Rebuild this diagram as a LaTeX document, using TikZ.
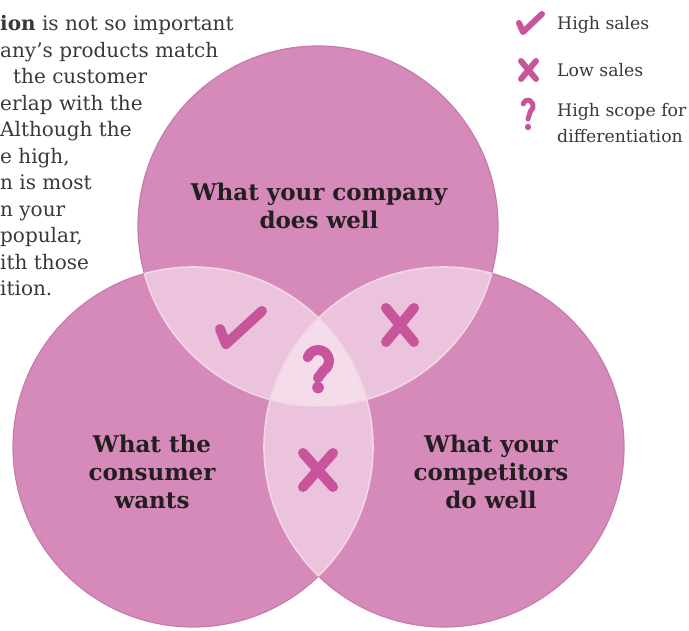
\documentclass[tikz,border=0pt]{standalone}
\usepackage{fontspec}
\setmainfont{DejaVu Serif}
\definecolor{circ}{HTML}{D68ABA}
\definecolor{circrim}{HTML}{C67CAB}
\definecolor{pair}{HTML}{ECC3DD}
\definecolor{pairedge}{HTML}{F4D6E8}
\definecolor{triple}{HTML}{F5DCEB}
\definecolor{symc}{HTML}{C8559C}
\definecolor{txt}{HTML}{3A3838}
\definecolor{lbl}{HTML}{231F20}
\begin{document}
\begin{tikzpicture}[x=1pt,y=1pt,
  bodytext/.style={font=\fontsize{20}{26.5}\selectfont, text=txt, inner sep=0pt, anchor=base west},
  legtext/.style={font=\fontsize{17.3}{26}\selectfont, text=txt, inner sep=0pt, anchor=base west},
  labeltext/.style={font=\fontsize{23}{28}\selectfont\bfseries, text=lbl, align=center, inner sep=0pt},
  sym/.style={draw=symc, line width=10, line cap=round, line join=round},
  smallsym/.style={draw=symc, line width=6, line cap=round, line join=round}]
\useasboundingbox (0,0) rectangle (689,-631);
\clip (0,0) rectangle (689,-631);
\coordinate (ct) at (318,-226);
\coordinate (cl) at (193,-447);
\coordinate (cr) at (444,-447);
% circles
\foreach \c in {ct,cl,cr}{\fill[circ] (\c) circle[radius=180];}
\foreach \c in {ct,cl,cr}{\draw[circrim, line width=1.2] (\c) circle[radius=180];}
% pairwise overlaps
\begin{scope}
  \clip (ct) circle[radius=180];
  \fill[pair] (cl) circle[radius=180];
  \fill[pair] (cr) circle[radius=180];
\end{scope}
\begin{scope}
  \clip (cl) circle[radius=180];
  \fill[pair] (cr) circle[radius=180];
\end{scope}
% triple overlap
\begin{scope}
  \clip (ct) circle[radius=180];
  \clip (cl) circle[radius=180];
  \fill[triple] (cr) circle[radius=180];
\end{scope}
% light lens edges
\begin{scope}
  \clip (ct) circle[radius=180];
  \draw[pairedge, line width=1.6] (cl) circle[radius=180];
  \draw[pairedge, line width=1.6] (cr) circle[radius=180];
\end{scope}
\begin{scope}
  \clip (cl) circle[radius=180];
  \draw[pairedge, line width=1.6] (ct) circle[radius=180];
  \draw[pairedge, line width=1.6] (cr) circle[radius=180];
\end{scope}
\begin{scope}
  \clip (cr) circle[radius=180];
  \draw[pairedge, line width=1.6] (ct) circle[radius=180];
  \draw[pairedge, line width=1.6] (cl) circle[radius=180];
\end{scope}
% circle labels
\node[labeltext] (lcompany) at (319,-206) {What your company\\does well};
\node[labeltext] (lconsumer) at (152,-472) {What the\\consumer\\wants};
\node[labeltext] (lcompet) at (491,-472) {What your\\competitors\\do well};
% symbols in overlaps
\draw[sym] (220,-329) -- (226,-344) -- (262,-311);
\draw[sym] (386,-308) -- (414,-342);
\draw[sym] (414,-308) -- (386,-342);
\draw[sym] (303,-453) -- (333,-487);
\draw[sym] (333,-453) -- (303,-487);
\draw[sym] (307.7,-357.2) arc[start angle=160, end angle=-60, radius=11] -- (318,-378);
\fill[symc] (318,-387.5) circle[radius=5.8];
% legend
\draw[smallsym] (519,-23) -- (523,-32) -- (542,-14);
\draw[smallsym] (521,-61) -- (536,-79);
\draw[smallsym] (536,-61) -- (521,-79);
\draw[smallsym, line width=5] (523.3,-103.95) arc[start angle=160, end angle=-60, x radius=5, y radius=6] -- (528,-119);
\fill[symc] (528,-127) circle[radius=3.2];
\node[legtext] (leg1) at (557,-30) {High sales};
\node[legtext] (leg2) at (557,-77) {Low sales};
\node[legtext] (leg3a) at (557,-117) {High scope for};
\node[legtext] (leg3b) at (557,-143) {differentiation};
% paragraph (cropped at left edge)
\node[bodytext] (p1) at (0,-31) {\textbf{ion} is not so important};
\node[bodytext] (p2) at (0,-57.5) {any’s products match};
\node[bodytext] (p3) at (13,-84) {the customer};
\node[bodytext] (p4) at (0,-110.5) {erlap with the};
\node[bodytext] (p5) at (0,-137) {Although the};
\node[bodytext] (p6) at (0,-163.5) {e high,};
\node[bodytext] (p7) at (0,-190) {n is most};
\node[bodytext] (p8) at (0,-216.5) {n your};
\node[bodytext] (p9) at (0,-243) {popular,};
\node[bodytext] (p10) at (0,-269.5) {ith those};
\node[bodytext] (p11) at (0,-296) {ition.};
\end{tikzpicture}
\end{document}
